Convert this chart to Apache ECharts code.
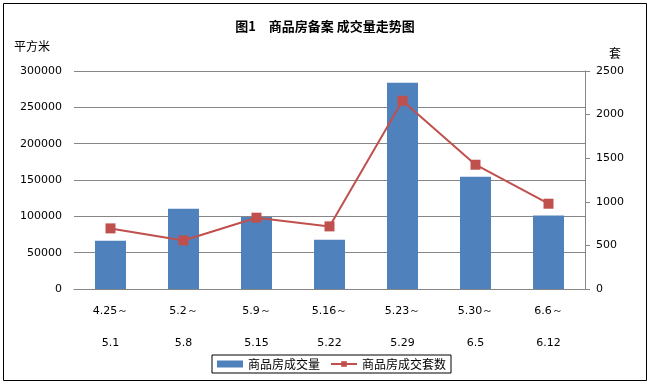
<!DOCTYPE html>
<html><head><meta charset="utf-8">
<script src="https://cdn.jsdelivr.net/npm/echarts@6/dist/echarts.min.js"></script>
<style>html,body{margin:0;padding:0;background:#fff}#c{width:649px;height:383px}</style>
</head><body><div id="c"></div>
<script>
var categories = ['4.25～\n5.1','5.2～\n5.8','5.9～\n5.15','5.16～\n5.22','5.23～\n5.29','5.30～\n6.5','6.6～\n6.12'];
var areaValues = [66500, 110500, 99100, 67800, 283900, 154500, 101300];
var unitValues = [695, 557, 818, 718, 2159, 1425, 978];
var leftTicks = {min:0, max:300000, interval:50000};
var rightTicks = {min:0, max:2500, interval:500};

var chart = echarts.init(document.getElementById('c'));
var font = 'DejaVu Sans';
var plain = function(v){ return String(v); };
chart.setOption({
  animation:false,
  backgroundColor:'#fff',
  title:{text:'图1　商品房备案 成交量走势图', left:320, textAlign:'center', top:15,
    textStyle:{fontSize:13, fontWeight:'bold', color:'#000', fontFamily:'"Noto Sans CJK SC"'}},
  grid:{left:74, right:64, top:71, bottom:94},
  legend:{left:212, top:355, orient:'horizontal', padding:[3,5,3,5], borderColor:'#000', borderWidth:1,
    itemGap:10, itemWidth:26, itemHeight:7,
    textStyle:{fontSize:12, color:'#000', fontFamily:'"Noto Sans CJK SC"'},
    data:[{name:'商品房成交量', icon:'rect'},{name:'商品房成交套数'}]},
  xAxis:{type:'category', data:categories,
    axisLine:{lineStyle:{color:'#868686', width:1}},
    axisTick:{show:false},
    axisLabel:{color:'#000', fontSize:11, fontFamily:font, lineHeight:32, margin:6, interval:0}},
  yAxis:[{type:'value', min:leftTicks.min, max:leftTicks.max, interval:leftTicks.interval,
    axisLine:{show:false}, axisTick:{show:false},
    splitLine:{lineStyle:{color:'#868686', width:1}},
    axisLabel:{color:'#000', fontSize:11, fontFamily:font, margin:12, formatter:plain}},
   {type:'value', min:rightTicks.min, max:rightTicks.max, interval:rightTicks.interval, position:'right',
    axisLine:{show:true, lineStyle:{color:'#868686'}}, axisTick:{show:true, length:5, lineStyle:{color:'#868686'}},
    splitLine:{show:false},
    axisLabel:{color:'#000', fontSize:11, fontFamily:font, margin:11, formatter:plain}}],
  series:[
    {name:'商品房成交量', type:'bar', data:areaValues, barWidth:31, itemStyle:{color:'#4f81bd'}, yAxisIndex:0},
    {name:'商品房成交套数', type:'line', data:unitValues, yAxisIndex:1, symbol:'rect', symbolSize:10,
     lineStyle:{color:'#c0504d', width:2}, itemStyle:{color:'#c0504d'}}
  ],
  graphic:[
    {type:'rect', shape:{x:3.5, y:3.5, width:643, height:377}, style:{fill:null, stroke:'#000', lineWidth:1}, silent:true},
    {type:'text', left:14, top:40, style:{text:'平方米', fontSize:12, fill:'#000', fontFamily:'"Noto Sans CJK SC"'}},
    {type:'text', left:609, top:47, style:{text:'套', fontSize:12, fill:'#000', fontFamily:'"Noto Sans CJK SC"'}}
  ]
});
</script></body></html>
